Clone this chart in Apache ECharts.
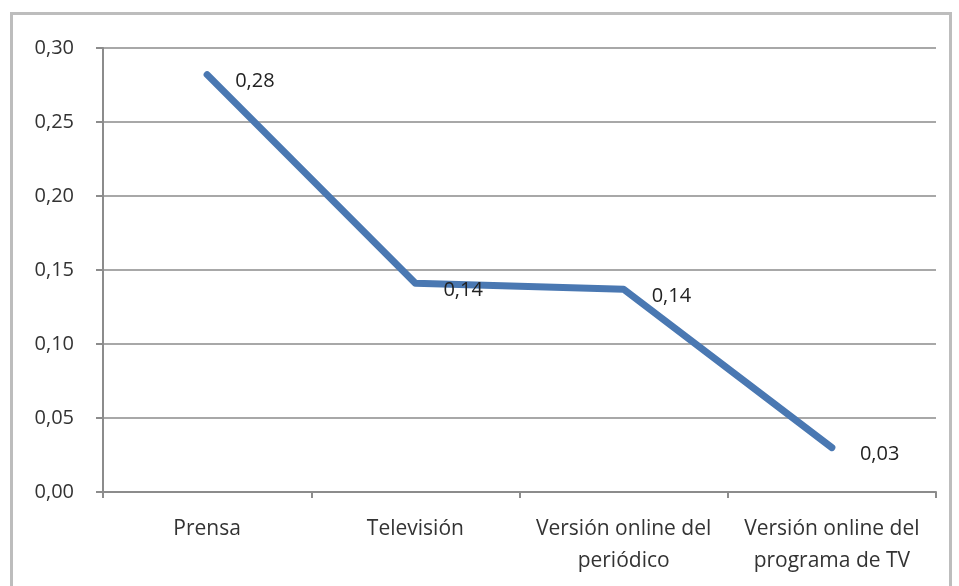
<!DOCTYPE html>
<html><head><meta charset="utf-8">
<script src="https://cdn.jsdelivr.net/npm/echarts@6/dist/echarts.min.js"></script>
<style>html,body{margin:0;padding:0;background:#fff;}#frame{position:absolute;left:10px;top:12px;width:942px;height:600px;border:3px solid #bdbdbd;box-sizing:border-box;}#c{position:absolute;left:0;top:0;width:959px;height:586px;}</style>
</head><body>
<div id="frame"></div>
<div id="c"></div>
<script>
const categories = ['Prensa', 'Televisión', 'Versión online del\nperiódico', 'Versión online del\nprograma de TV'];
const values = [0.282, 0.141, 0.137, 0.030];
const valueLabels = ['0,28', '0,14', '0,14', '0,03'];

const chart = echarts.init(document.getElementById('c'));
const font = '"Open Sans", "Noto Sans", sans-serif';
chart.setOption({
  animation: false,
  grid: {left: 103, right: 23, top: 48, bottom: 94, containLabel: false},
  xAxis: {
    type: 'category', data: categories, boundaryGap: true,
    axisLine: {lineStyle: {color: '#8c8c8c', width: 2}},
    axisTick: {show: true, interval: 0, length: 6, lineStyle: {color: '#8c8c8c', width: 2}, alignWithLabel: false},
    axisLabel: {interval: 0, hideOverlap: false, color: '#333', fontFamily: font, fontSize: 21, margin: 21, lineHeight: 32}
  },
  yAxis: {
    type: 'value', min: 0, max: 0.30, interval: 0.05,
    axisLine: {show: true, lineStyle: {color: '#8c8c8c', width: 2}},
    axisTick: {show: true, length: 7, lineStyle: {color: '#8c8c8c', width: 2}},
    splitLine: {lineStyle: {color: '#a8a8a8', width: 2}},
    axisLabel: {color: '#333', fontFamily: font, fontSize: 20, margin: 29,
      formatter: v => v.toFixed(2).replace('.', ',')}
  },
  series: [{
    type: 'line', data: values, symbol: 'circle', symbolSize: 2, showSymbol: true,
    itemStyle: {color: '#4a78b2'},
    lineStyle: {color: '#4a78b2', width: 7, cap: 'round', join: 'round'},
    label: {show: true, position: [29, 8], align: 'left', verticalAlign: 'middle', color: '#222', fontFamily: font, fontSize: 20,
      formatter: p => valueLabels[p.dataIndex]},
    labelLayout: {hideOverlap: false}
  }]
});
</script>
</body></html>
